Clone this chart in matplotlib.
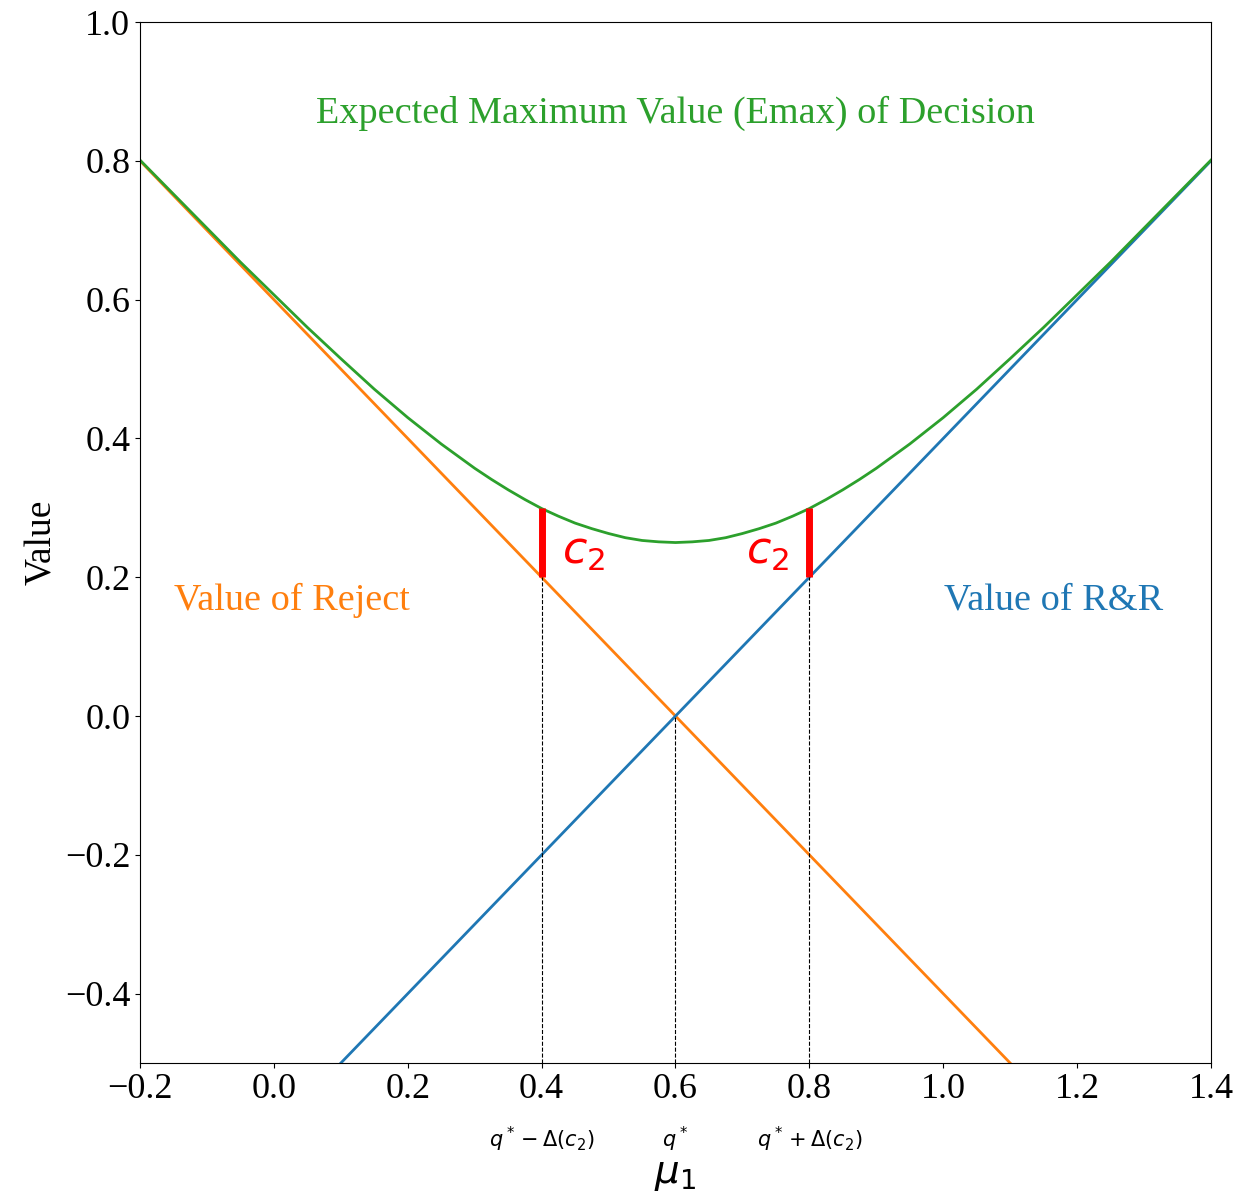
import matplotlib.pyplot as plt

plt.rcParams['font.family'] = ['Liberation Serif', 'DejaVu Serif']
plt.rcParams['mathtext.fontset'] = 'dejavusans'

# mu_1 grid and the curves
mu = [-0.2, -0.15, -0.1, -0.05, 0.0, 0.05, 0.1, 0.15, 0.2, 0.25, 0.3, 0.325,
      0.35, 0.375, 0.4, 0.425, 0.45, 0.475, 0.5, 0.525, 0.55, 0.575, 0.6,
      0.625, 0.65, 0.675, 0.7, 0.725, 0.75, 0.775, 0.8, 0.825, 0.85, 0.875,
      0.9, 0.95, 1.0, 1.05, 1.1, 1.15, 1.2, 1.25, 1.3, 1.35, 1.4]
emax = [0.801, 0.752, 0.703, 0.654, 0.607, 0.560, 0.515, 0.471, 0.430, 0.392,
        0.357, 0.341, 0.326, 0.312, 0.299, 0.288, 0.278, 0.270, 0.263, 0.257,
        0.253, 0.251, 0.250, 0.251, 0.253, 0.257, 0.263, 0.270, 0.278, 0.288,
        0.299, 0.312, 0.326, 0.341, 0.357, 0.392, 0.430, 0.471, 0.515, 0.560,
        0.607, 0.654, 0.703, 0.752, 0.801]
line_x = [-0.2, 1.4]
reject = [0.8, -0.8]
rr = [-0.8, 0.8]

q_star = 0.6
marks = [0.4, 0.8]
mark_low = [0.2, 0.2]
mark_high = [0.3, 0.3]
q_labels = [r'$q^*-\Delta(c_2)$', r'$q^*$', r'$q^*+\Delta(c_2)$']

fig = plt.figure(figsize=(12.47, 11.97), dpi=100)
ax = fig.add_axes([0.1123, 0.1119, 0.8588, 0.8697])

ax.plot(line_x, reject, color='tab:orange', lw=2)
ax.plot(line_x, rr, color='tab:blue', lw=2)
ax.plot(mu, emax, color='tab:green', lw=2)

# c2 gaps
for xm, lo, hi in zip(marks, mark_low, mark_high):
    ax.plot([xm, xm], [lo, hi], color='red', lw=5, solid_capstyle='butt')
    ax.plot([xm, xm], [-0.5, lo], color='black', lw=0.8, ls='--')
ax.plot([q_star, q_star], [-0.5, 0.0], color='black', lw=0.8, ls='--')

ax.text(0.43, 0.235, r'$c_2$', color='red', fontsize=32, ha='left', va='center')
ax.text(0.77, 0.235, r'$c_2$', color='red', fontsize=32, ha='right', va='center')

ax.text(0.6, 0.869, 'Expected Maximum Value (Emax) of Decision', color='tab:green',
        fontsize=27.5, ha='center', va='center')
ax.text(0.027, 0.167, 'Value of Reject', color='tab:orange', fontsize=27.5,
        ha='center', va='center')
ax.text(1.165, 0.167, 'Value of R&R', color='tab:blue', fontsize=27.5,
        ha='center', va='center')

for xq, lab in zip([0.4, q_star, 0.8], q_labels):
    ax.text(xq, -0.61, lab, fontsize=15, ha='center', va='center')

ax.set_xlim(-0.2, 1.4)
ax.set_ylim(-0.5, 1.0)
ax.tick_params(labelsize=26)
ax.set_ylabel('Value', fontsize=27)
ax.set_xlabel(r'$\mu_1$', fontsize=28, labelpad=36)

fig.savefig('out.png', dpi=100)
